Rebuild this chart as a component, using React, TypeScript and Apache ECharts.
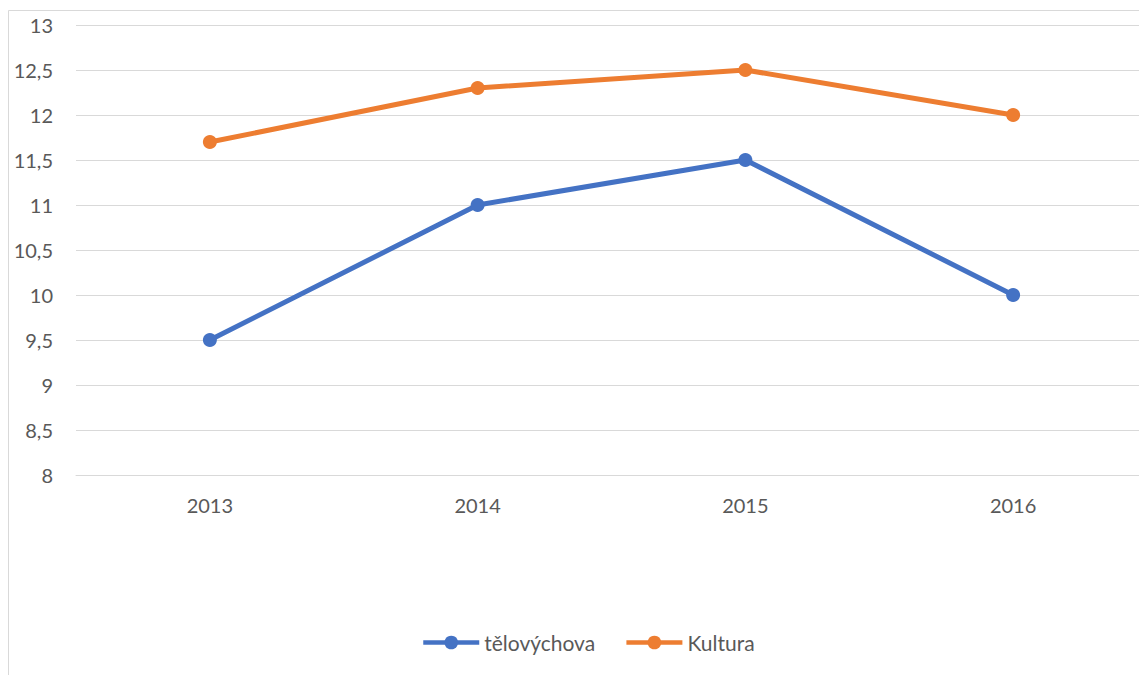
import React, { useEffect, useRef } from "react";
import * as echarts from "echarts";

const categories = ["2013", "2014", "2015", "2016"];
const telovychova = [9.5, 11, 11.5, 10];
const kultura = [11.7, 12.3, 12.5, 12];
const seriesNames = ["tělovýchova", "Kultura"];

export default function App() {
  const ref = useRef<HTMLDivElement>(null);
  useEffect(() => {
    if (!ref.current) return;
    const chart = echarts.init(ref.current, undefined, { renderer: "svg" });
    const font = "Lato, 'Open Sans', sans-serif";
    chart.setOption({
      animation: false,
      backgroundColor: "#ffffff",
      textStyle: { fontFamily: font },
      graphic: [
        {
          type: "rect",
          shape: { x: 0.5, y: 2.5, width: 3000, height: 3000 },
          style: { fill: "none", stroke: "#d9d9d9", lineWidth: 1 },
          silent: true,
        },
      ],
      grid: { left: 68, right: -1, top: 17, bottom: 200, containLabel: false },
      legend: {
        data: seriesNames,
        top: 619,
        left: 408,
        itemWidth: 56,
        itemHeight: 17,
        itemGap: 29,
        lineStyle: { width: 4.5 },
        textStyle: { fontFamily: font, fontSize: 21, color: "#595959", padding: [0, 0, 0, 0] },
      },
      xAxis: {
        type: "category",
        data: categories,
        boundaryGap: true,
        axisLine: { show: true, lineStyle: { color: "#d9d9d9", width: 1 } },
        axisTick: { show: false },
        axisLabel: { color: "#595959", fontSize: 20, fontFamily: font, margin: 20 },
      },
      yAxis: {
        type: "value",
        min: 8,
        max: 13,
        interval: 0.5,
        axisLine: { show: false },
        axisTick: { show: false },
        splitLine: { lineStyle: { color: "#d9d9d9", width: 1 } },
        axisLabel: {
          color: "#595959",
          fontSize: 20,
          fontFamily: font,
          margin: 23,
          formatter: (v: number) => String(v).replace(".", ","),
        },
      },
      series: [
        {
          name: seriesNames[0],
          type: "line",
          data: telovychova,
          symbol: "circle",
          symbolSize: 14,
          lineStyle: { color: "#4472C4", width: 5 },
          itemStyle: { color: "#4472C4" },
        },
        {
          name: seriesNames[1],
          type: "line",
          data: kultura,
          symbol: "circle",
          symbolSize: 14,
          lineStyle: { color: "#ED7D31", width: 5 },
          itemStyle: { color: "#ED7D31" },
        },
      ],
    });
    return () => chart.dispose();
  }, []);
  return <div ref={ref} style={{ width: 1139, height: 667 }} />;
}
